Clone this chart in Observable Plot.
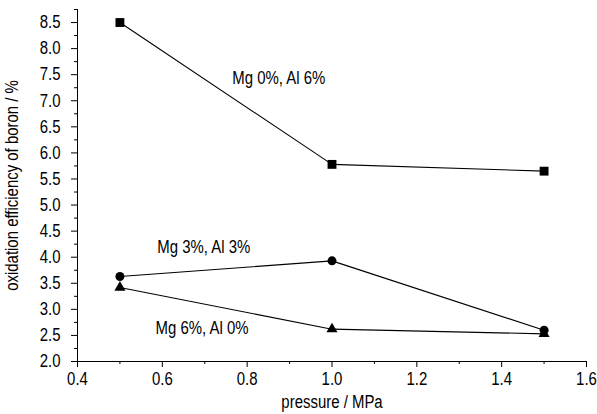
<!DOCTYPE html>
<html>
<head>
<meta charset="utf-8">
<script src="https://cdn.jsdelivr.net/npm/d3@7"></script>
<script src="https://cdn.jsdelivr.net/npm/@observablehq/plot@0.6"></script>
<style>
  html, body { margin: 0; padding: 0; background: #fff; }
  svg { display: block; }
</style>
</head>
<body>
<div id="chart"></div>
<script>
const pressure = [0.5, 1.0, 1.5];
const seriesNames = ["Mg 0%, Al 6%", "Mg 3%, Al 3%", "Mg 6%, Al 0%"];
const mg0al6 = [8.5, 5.78, 5.65];
const mg3al3 = [3.63, 3.93, 2.6];
const mg6al0 = [3.42, 2.62, 2.53];
const symbols = ["square", "circle", "triangle"];
const labelX = [0.765, 0.588, 0.584];
const labelY = [7.43, 4.2, 2.63];

const xMajor = [0.4, 0.6, 0.8, 1.0, 1.2, 1.4, 1.6];
const xMinor = [0.5, 0.7, 0.9, 1.1, 1.3, 1.5];
const yMajor = [2.0, 2.5, 3.0, 3.5, 4.0, 4.5, 5.0, 5.5, 6.0, 6.5, 7.0, 7.5, 8.0, 8.5];
const yMinor = [2.25, 2.75, 3.25, 3.75, 4.25, 4.75, 5.25, 5.75, 6.25, 6.75, 7.25, 7.75, 8.25, 8.75];

const allValues = [mg0al6, mg3al3, mg6al0];
const rows = [];
allValues.forEach((vals, s) => vals.forEach((v, i) => rows.push({series: seriesNames[s], sym: symbols[s], x: pressure[i], y: v})));
const labels = seriesNames.map((name, s) => ({name, x: labelX[s], y: labelY[s]}));

const font = "'Liberation Sans', Arial, sans-serif";

const plot = Plot.plot({
  width: 597,
  height: 414,
  marginLeft: 77,
  marginRight: 11,
  marginTop: 9,
  marginBottom: 53,
  style: {fontFamily: font, fontSize: "18px", color: "#000", background: "#fff"},
  x: {domain: [0.4, 1.6]},
  y: {domain: [2.0, 8.75]},
  symbol: {domain: symbols, range: symbols},
  marks: [
    Plot.axisX(xMajor, {tickSize: 6, tickPadding: 5, tickFormat: d3.format(".1f"), label: "pressure / MPa", labelAnchor: "center", labelOffset: 46, labelArrow: "none", fontSize: 18}),
    Plot.axisX(xMinor, {tickSize: 3, text: null, label: null}),
    Plot.axisY(yMajor, {tickSize: 6, tickPadding: 11, tickFormat: d3.format(".1f"), label: "oxidation efficiency of boron / %", labelAnchor: "center", labelOffset: 72, labelArrow: "none", fontSize: 18}),
    Plot.axisY(yMinor, {tickSize: 3, text: null, label: null}),
    Plot.ruleX([0.4], {y1: 2.0, y2: 8.75, stroke: "#000"}),
    Plot.ruleY([2.0], {stroke: "#000"}),
    Plot.line(rows, {x: "x", y: "y", z: "series", stroke: "#000", strokeWidth: 1.1}),
    Plot.dot(rows.filter(d => d.sym === "square"), {x: "x", y: "y", symbol: "sym", r: 5, fill: "#000", stroke: null}),
    Plot.dot(rows.filter(d => d.sym === "circle"), {x: "x", y: "y", symbol: "sym", r: 4.5, fill: "#000", stroke: null}),
    Plot.dot(rows.filter(d => d.sym === "triangle"), {x: "x", y: "y", symbol: "sym", r: 4.1, fill: "#000", stroke: null}),
    Plot.text(labels, {x: "x", y: "y", text: "name", textAnchor: "start", fontSize: 18, fill: "#000"})
  ]
});
document.getElementById("chart").appendChild(plot);

// Condense glyphs horizontally to mimic the narrow typeface of the original.
plot.querySelectorAll("text").forEach(t => {
  if (!t.textContent) return;
  const len = t.getComputedTextLength();
  if (len > 0) {
    t.setAttribute("textLength", (len * 0.83).toFixed(2));
    t.setAttribute("lengthAdjust", "spacingAndGlyphs");
  }
});
</script>
</body>
</html>
